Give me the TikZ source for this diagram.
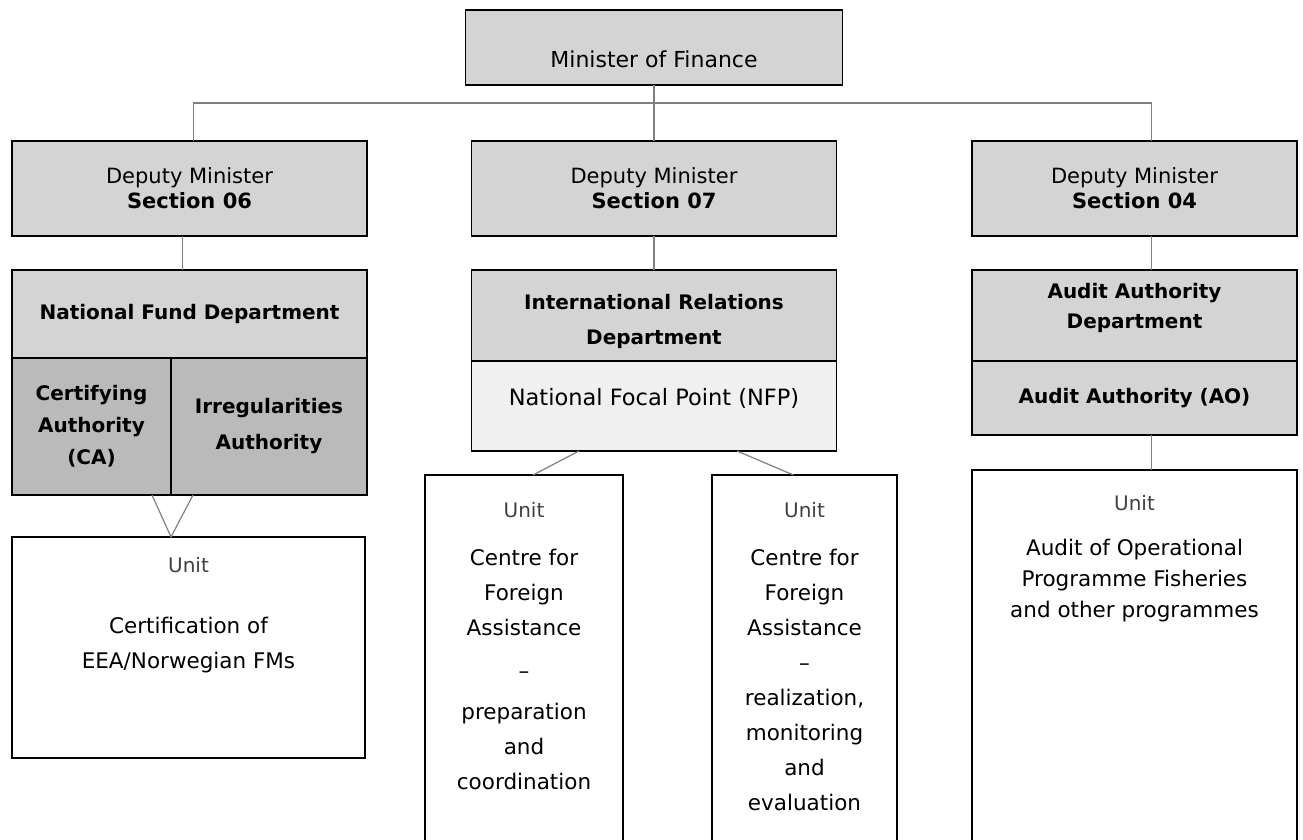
\documentclass[tikz,border=0pt]{standalone}
\usepackage{fontspec}
\setmainfont{DejaVu Sans}
\usetikzlibrary{positioning}

\definecolor{boxgray}{HTML}{D4D4D4}
\definecolor{authgray}{HTML}{BABABA}
\definecolor{nfpgray}{HTML}{F0F0F0}
\definecolor{linkgray}{HTML}{808080}
\definecolor{unitgray}{HTML}{404040}

\begin{document}
\begin{tikzpicture}[
    x=1pt,y=-1pt,
    every node/.style={inner sep=0pt,outer sep=0pt,align=center,font=\fontsize{21}{25}\selectfont},
    box/.style={draw=black,line width=1.4pt},
    level/.style={box,fill=boxgray},
    dept/.style={box,fill=boxgray,font=\bfseries\fontsize{20}{33}\selectfont},
    auth/.style={box,fill=authgray,font=\bfseries\fontsize{20}{32}\selectfont},
    unit/.style={box,fill=white},
    unitlbl/.style={text=unitgray,font=\fontsize{20}{24}\selectfont},
    unittext/.style={font=\fontsize{21.5}{35}\selectfont},
    link/.style={draw=linkgray,line width=1.2pt}
]

% frame
\useasboundingbox (0,0) rectangle (1303,840);
\clip (0,0) rectangle (1303,840);

% minister
\node[level,minimum width=377,minimum height=75] (mof) at (654,47.5) {};
\node[font=\fontsize{22}{26}\selectfont,below=41pt of mof.north] (moft) {Minister of Finance};

% deputy ministers
\node[level,minimum width=355,minimum height=95] (dep06) at (189.5,188.5) {Deputy Minister\\\textbf{Section 06}};
\node[level,minimum width=365,minimum height=95] (dep07) at (654,188.5) {Deputy Minister\\\textbf{Section 07}};
\node[level,minimum width=325,minimum height=95] (dep04) at (1134.5,188.5) {Deputy Minister\\\textbf{Section 04}};

% bus
\coordinate (bus) at (654,103);
\draw[link] (mof.south) -- (bus);
\draw[link] ([xshift=4pt]dep06.north) |- (bus) -| ([xshift=17pt]dep04.north);
\draw[link] (bus) -- (dep07.north);

% departments
\node[dept,minimum width=355,minimum height=88] (nfd) at (189.5,314) {National Fund Department};
\node[auth,minimum width=159,minimum height=137] (ca) at (91.5,426.5) {Certifying\\Authority\\(CA)};
\node[auth,minimum width=196,minimum height=137,font=\bfseries\fontsize{20}{36}\selectfont] (ia) at (269,426.5) {Irregularities\\Authority};

\node[dept,minimum width=365,minimum height=91] (ird) at (654,315.5) {};
\node[font=\bfseries\fontsize{20}{35}\selectfont] (irdt) at ([yshift=-6pt]ird.center) {International Relations\\Department};
\node[box,fill=nfpgray,minimum width=365,minimum height=90] (nfp) at (654,406) {};
\node[font=\fontsize{22.5}{26}\selectfont] (nfpt) at ([yshift=8pt]nfp.center) {National Focal Point (NFP)};

\node[dept,minimum width=325,minimum height=91] (aad) at (1134.5,315.5) {};
\node[font=\bfseries\fontsize{20}{30}\selectfont] (aadt) at ([yshift=8pt]aad.center) {Audit Authority\\Department};
\node[dept,minimum width=325,minimum height=74] (ao) at (1134.5,398) {Audit Authority (AO)};

\draw[link] ([xshift=-7pt]dep06.south) -- ([xshift=-7pt]nfd.north);
\draw[link] (dep07.south) -- (ird.north);
\draw[link] ([xshift=17pt]dep04.south) -- ([xshift=17pt]aad.north);

% units
\node[unit,minimum width=353,minimum height=221] (u06) at (188.5,647.5) {};
\node[unit,minimum width=198,minimum height=375] (uprep) at (524,662.5) {};
\node[unit,minimum width=185,minimum height=375] (ureal) at (804.5,662.5) {};
\node[unit,minimum width=325,minimum height=380] (uaudit) at (1134.5,660) {};

\node[unitlbl,below=20pt of u06.north] (u06l) {Unit};
\node[unittext,below=80pt of u06.north] (u06t) {Certification of\\EEA/Norwegian FMs};

\node[unitlbl,below=27pt of uprep.north] (uprepl) {Unit};
\node[unittext,below=74pt of uprep.north] (uprept) {Centre for\\Foreign\\Assistance\\[8pt]–\\[6pt]preparation\\and\\coordination};

\node[unitlbl,below=27pt of ureal.north] (ureall) {Unit};
\node[unittext,below=74pt of ureal.north] (urealt) {Centre for\\Foreign\\Assistance\\–\\realization,\\monitoring\\and\\evaluation};

\node[unitlbl,below=25pt of uaudit.north] (uauditl) {Unit};
\node[unittext,below=69pt of uaudit.north,font=\fontsize{21.5}{31}\selectfont] (uauditt) {Audit of Operational\\Programme Fisheries\\and other programmes};

% unit links
\coordinate (apex) at (ca.south east |- u06.north);
\draw[link] ([xshift=-19pt]ca.south east) -- (apex) -- ([xshift=22pt]ia.south west);
\draw[link] ([xshift=-75pt]nfp.south) -- ([xshift=9pt]uprep.north);
\draw[link] ([xshift=83pt]nfp.south) -- ([xshift=-11pt]ureal.north);
\draw[link] ([xshift=17pt]ao.south) -- ([xshift=17pt]uaudit.north);

\end{tikzpicture}
\end{document}
